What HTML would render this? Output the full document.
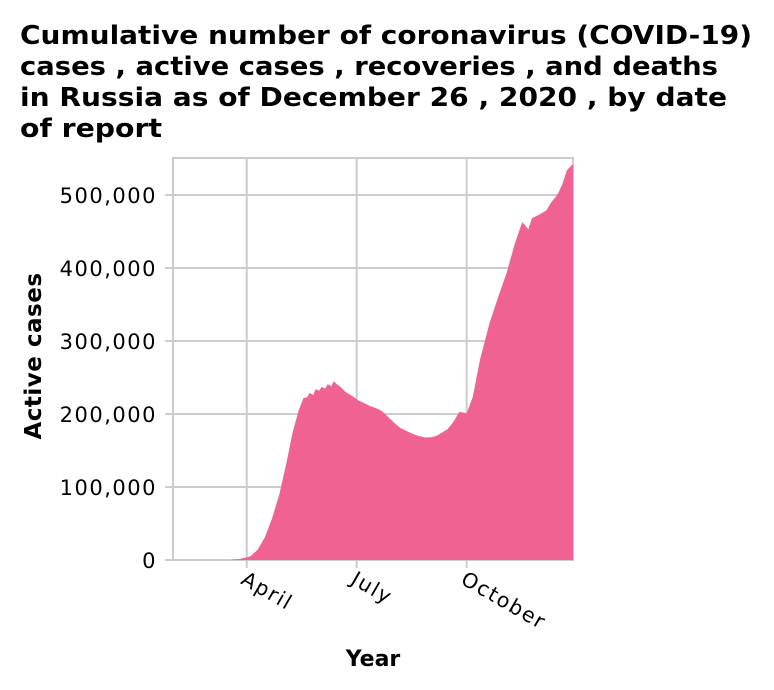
<!DOCTYPE html>
<html><head><meta charset="utf-8">
<style>
body{margin:0;background:#fff;width:774px;height:690px;overflow:hidden;font-family:"DejaVu Sans","Liberation Sans",sans-serif}
</style></head><body>
<svg id="chart" width="774" height="690" style="position:absolute;left:0;top:0">
<g font-family="DejaVu Sans, Liberation Sans, sans-serif" font-weight="bold" font-size="26" fill="#000">
<text x="20" y="44" textLength="732" lengthAdjust="spacingAndGlyphs">Cumulative number of coronavirus (COVID-19)</text>
<text x="20" y="75" textLength="698" lengthAdjust="spacingAndGlyphs">cases , active cases , recoveries , and deaths</text>
<text x="20" y="106" textLength="707" lengthAdjust="spacingAndGlyphs">in Russia as of December 26 , 2020 , by date</text>
<text x="20" y="137" textLength="142" lengthAdjust="spacingAndGlyphs">of report</text>
</g>
</svg>
<script>
const days=[0,47,55,64,70,76,82,88,94,99,104,108,111,113,116,118,121,123,126,128,131,133,136,138,143,148,153,158,163,168,173,178,183,188,193,198,203,208,213,218,222,227,232,237,243,248,254,262,269,276,283,289,294,297,304,309,313,318,322,326,330,331];
const activeCases=[0,0,1400,5000,14000,31000,57000,90000,134000,175000,205000,222000,223000,229000,226000,234000,232000,237000,235000,241000,238000,245000,240000,238000,230000,225000,219000,215000,211000,208000,204000,196000,188000,181000,177000,173000,170000,168000,168000,170000,174000,179000,189000,203000,201000,223000,274000,325000,360000,393000,434000,463000,453000,468000,474000,479000,490000,500000,514000,534000,541000,542000];
const yTicks=[0,100000,200000,300000,400000,500000];
const yTickLabels=["0","100,000","200,000","300,000","400,000","500,000"];
const xTickDays=[61,152,243];
const xTickLabels=["April","July","October"];
const NS="http://www.w3.org/2000/svg";
const svg=document.getElementById('chart');
const L=173,R=573,T=158,B=560;
const x=d=>L+d/331*(R-L);
const y=v=>B-v/500000*365;
function mk(t,a){const e=document.createElementNS(NS,t);for(const k in a)e.setAttribute(k,a[k]);svg.appendChild(e);return e;}
yTicks.forEach((v,i)=>{
 const g=mk('line',{x1:L,x2:R,y1:y(v),y2:y(v),stroke:'#ccc','stroke-width':2});
 
 
 const tk=mk('line',{x1:L-8,x2:L,y1:y(v),y2:y(v),stroke:'#ccc','stroke-width':2});
 
 
 const t=mk('text',{x:L-16,y:y(v)+8,'text-anchor':'end','font-size':21,fill:'#000','letter-spacing':'1.5'});
 t.textContent=yTickLabels[i];
 
 
});
xTickDays.forEach((d,i)=>{
 const g=mk('line',{x1:x(d),x2:x(d),y1:T,y2:B+8,stroke:'#ccc','stroke-width':2});
 
 
 const t=mk('text',{x:0,y:0,'font-size':20.5,fill:'#000',transform:`translate(${x(d)-7},${B+23}) rotate(30)`,'letter-spacing':'1.7'});
 t.textContent=xTickLabels[i];
 
 
});
const fr=mk('rect',{x:L,y:T,width:R-L,height:B-T,fill:'none',stroke:'#ccc','stroke-width':2});


let dp=`M${x(days[0])},${y(0)}`;
days.forEach((d,i)=>{dp+=`L${x(d)},${y(activeCases[i])}`;});
dp+=`L${x(days[days.length-1])},${y(0)}Z`;
const area=mk('path',{d:dp,fill:'#f06292'});


const xt=mk('text',{x:373,y:666,'text-anchor':'middle','font-size':22,'font-weight':'bold',fill:'#000'});
xt.textContent='Year';


const yt=mk('text',{x:0,y:0,'text-anchor':'middle','font-size':23,'font-weight':'bold',fill:'#000',transform:'translate(41,356) rotate(-90)','letter-spacing':'0.5'});
yt.textContent='Active cases';


</script>
</body></html>
